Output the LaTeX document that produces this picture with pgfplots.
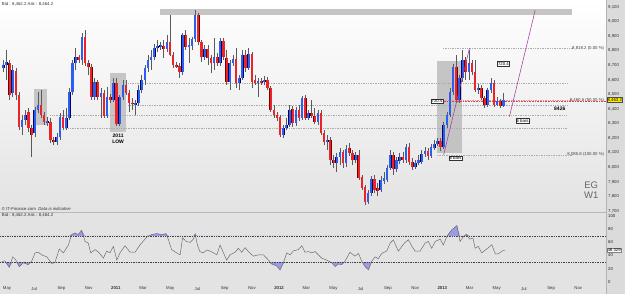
\documentclass[border=0pt]{standalone}
\usepackage{fontspec}
\setmainfont{Liberation Sans}
\usepackage{pgfplots}
\usepackage{pgfplotstable}
\pgfplotsset{compat=1.18}
\definecolor{upc}{HTML}{2A5FF0}
\definecolor{dnc}{HTML}{EC2428}
\definecolor{wick}{HTML}{5A5A5A}
\definecolor{rsifill}{HTML}{9C9CE6}
\definecolor{boxg}{HTML}{BEBEBE}
\newcommand{\tf}{\fontsize{4.3}{5}\selectfont}
\pgfplotsset{nomark/.style={only marks, mark=*, mark size=0pt, mark options={draw=none, fill=none}}}
\pgfplotstableread{
i O H L C
0 8682 8736 8654 8702
1 8702 8805 8599 8723
2 8716 8736 8462 8496
3 8510 8702 8483 8668
4 8661 8682 8462 8496
5 8496 8517 8256 8277
6 8277 8359 8222 8325
7 8325 8393 8291 8359
8 8380 8407 8242 8270
9 8270 8291 8071 8222
10 8236 8414 8208 8393
11 8393 8517 8373 8428
12 8428 8531 8339 8359
13 8359 8380 8291 8311
14 8304 8345 8284 8318
15 8311 8339 8167 8188
16 8188 8208 8153 8174
17 8174 8236 8153 8208
18 8208 8373 8188 8345
19 8345 8393 8256 8270
20 8270 8407 8256 8339
21 8339 8544 8325 8517
22 8517 8736 8496 8716
23 8716 8819 8668 8757
24 8757 8771 8716 8736
25 8736 8922 8702 8894
26 8894 8942 8695 8716
27 8716 8736 8634 8688
28 8688 8709 8462 8483
29 8483 8613 8462 8585
30 8585 8599 8462 8483
31 8483 8544 8339 8510
32 8510 8531 8339 8352
33 8352 8551 8339 8483
34 8483 8503 8441 8462
35 8462 8613 8448 8579
36 8579 8613 8284 8297
37 8297 8496 8284 8483
38 8483 8599 8462 8565
39 8565 8599 8496 8510
40 8510 8531 8380 8441
41 8441 8476 8393 8435
42 8428 8462 8359 8441
43 8441 8565 8421 8531
44 8531 8634 8510 8599
45 8599 8702 8565 8682
46 8682 8771 8654 8736
47 8736 8805 8668 8757
48 8757 8846 8736 8819
49 8819 8874 8791 8832
50 8826 8860 8805 8839
51 8832 8874 8750 8812
52 8812 8908 8791 8860
53 8860 9045 8764 8771
54 8771 8791 8682 8702
55 8702 8723 8682 8695
56 8695 8716 8613 8654
57 8654 8922 8634 8908
58 8908 8942 8805 8826
59 8826 8887 8716 8839
60 8832 8894 8805 8880
61 8880 9079 8860 9045
62 9045 9059 8839 8860
63 8860 8874 8723 8757
64 8757 8839 8736 8812
65 8812 8839 8702 8750
66 8750 8771 8647 8716
67 8716 8887 8668 8757
68 8757 8784 8695 8716
69 8716 8887 8695 8867
70 8867 8887 8736 8757
71 8750 8805 8565 8585
72 8585 8736 8531 8716
73 8716 8771 8695 8743
74 8743 8819 8544 8579
75 8579 8634 8531 8613
76 8613 8805 8599 8771
77 8771 8805 8654 8682
78 8682 8819 8668 8778
79 8778 8791 8544 8585
80 8599 8634 8565 8579
81 8585 8613 8483 8592
82 8592 8613 8565 8585
83 8585 8627 8565 8599
84 8599 8620 8531 8544
85 8544 8558 8380 8393
86 8393 8428 8339 8359
87 8359 8380 8318 8339
88 8345 8359 8208 8222
89 8222 8291 8201 8270
90 8270 8339 8256 8291
91 8291 8428 8277 8393
92 8400 8421 8277 8304
93 8304 8414 8284 8393
94 8393 8428 8318 8339
95 8339 8489 8325 8476
96 8476 8496 8325 8339
97 8339 8393 8325 8373
98 8373 8462 8339 8352
99 8352 8407 8297 8311
100 8311 8393 8291 8373
101 8373 8393 8222 8236
102 8236 8256 8153 8174
103 8174 8222 8119 8188
104 8188 8208 8016 8050
105 8050 8085 7996 8030
106 8030 8098 7968 8071
107 8071 8133 8016 8105
108 8105 8119 7996 8030
109 8030 8153 8002 8126
110 8133 8167 8078 8098
111 8098 8119 8016 8050
112 8050 8105 8030 8085
113 8085 8119 7913 7927
114 7934 7948 7845 7858
115 7865 7879 7742 7762
116 7762 7845 7749 7824
117 7824 7941 7803 7920
118 7920 7948 7824 7845
119 7858 7893 7803 7838
120 7845 7941 7831 7913
121 7906 7968 7886 7927
122 7913 8016 7897 7996
123 7996 8119 7982 8085
124 8085 8105 7948 7989
125 7989 8071 7968 8050
126 8044 8098 8023 8071
127 8071 8105 8030 8050
128 8050 8160 8030 8140
129 8140 8167 8016 8037
130 8037 8064 7982 8002
131 8002 8050 7989 8030
132 8030 8085 8016 8050
133 8037 8119 8023 8092
134 8092 8140 8071 8112
135 8112 8133 8050 8078
136 8078 8160 8064 8140
137 8133 8188 8119 8160
138 8160 8201 8146 8181
139 8181 8201 8112 8140
140 8140 8311 8126 8291
141 8291 8380 8270 8359
142 8359 8544 8345 8517
143 8517 8709 8496 8688
144 8688 8771 8441 8462
145 8462 8634 8441 8613
146 8613 8805 8585 8736
147 8736 8757 8599 8654
148 8654 8805 8599 8716
149 8716 8736 8634 8654
150 8654 8736 8517 8531
151 8531 8572 8503 8544
152 8544 8565 8462 8476
153 8476 8489 8407 8428
154 8428 8544 8414 8531
155 8531 8613 8510 8579
156 8579 8599 8414 8428
157 8428 8483 8421 8455
158 8455 8469 8407 8421
159 8421 8510 8414 8463
}\candles
\pgfplotstableread{
x r
-0.5 30.8
0.5 31.8
1.9 22
3.0 38
4.0 33
5.1 23
6.4 29
7.9 26
9.0 31
10.1 44
11.1 45
12.2 41
13.8 38
15.4 28
16.4 29
17.8 50
19.1 44
20.7 56
21.7 72
22.8 74.5
23.8 72
24.9 78.5
26.0 61.5
27.0 59
27.8 44
29.2 49
30.5 44
31.8 36
32.9 46.7
33.9 44
35.0 54
36.1 33
37.1 44
38.7 55
40.3 45
41.9 45
43.5 56.5
45.6 68
47.2 72
48.8 73.5
50.4 72
51.7 73.5
52.5 64
53.5 49
55.1 44
56.2 41
57.0 67
58.1 61.5
59.4 60
60.4 65
61.0 73
61.7 56
62.5 46
63.6 44
64.7 48.5
66.3 45.5
67.9 41
68.9 56
70.0 44
71.0 33
72.1 41
73.7 45
74.7 51
75.8 45
76.9 52
77.9 46
79.5 39
81.1 41
82.7 41
84.3 33
85.3 27
86.9 24
88.0 18
89.0 28
90.1 44
91.2 41
92.2 47
93.8 49
94.9 55
95.9 45
97.0 46
98.1 44
99.1 46
101.2 36
102.8 33
104.4 29
105.5 23
106.5 27
107.6 26
108.6 31
110.2 45
111.8 39
112.9 43
114.0 31
115.0 23
116.1 18
117.1 31
118.2 38
119.2 35
120.3 43
121.9 47
123.0 59
124.0 64
124.9 54
125.6 46.7
126.7 54
127.7 60
128.8 64
129.9 54
130.9 46.7
132.5 46.7
134.1 59
135.1 61.5
136.2 51
137.3 61.5
138.9 65
139.9 56
141.0 69
142.6 79.5
144.2 85.7
145.2 61.5
146.3 69
147.3 72.5
148.2 65
149.3 66.7
150.0 51
151.0 54
152.1 44
153.7 50
155.3 56.5
156.4 42.6
157.4 42.6
158.5 46.7
159.5 48.3
}\rsitab
\begin{document}
\begin{tikzpicture}[x=1pt,y=1pt]
\path[use as bounding box] (0,0) rectangle (625,294);
\fill[gray!22] (0,0) rectangle (625,82);
\shade[top color=white, bottom color=gray!22] (0,82) rectangle (606,294);
\fill[gray!28] (606,0) rectangle (625,294);
\draw[gray!55, line width=0.4pt] (0,81.8) -- (606,81.8);
\draw[gray!60, line width=0.4pt] (606,0) -- (606,294);
\begin{axis}[
  at={(0pt,82pt)}, anchor=south west,
  scale only axis, width=606pt, height=212pt,
  xmin=-1.05, xmax=191.6, ymin=7693.7, ymax=9148,
  axis line style={draw=none},
  xtick=\empty,
  ytick={7700,7800,7900,8000,8100,8200,8300,8400,8500,8600,8700,8800,8900,9000,9100},
  yticklabel pos=right,
  major tick length=0pt,
  yticklabel style={font=\tf, anchor=west, xshift=1.5pt, text=black!80, inner sep=0.5pt},
  scaled y ticks=false,
  /pgf/number format/1000 sep={,},
  /pgf/number format/assume math mode=true,
  clip mode=individual,
  dl/.style={gray!65, line width=0.35pt, dash pattern=on 0.8pt off 0.9pt},
]
% shaded boxes
\fill[boxg!90] (axis cs:49.8,9045) rectangle (axis cs:180.8,9086);
\fill[boxg, opacity=0.85] (axis cs:9.8,8537) rectangle (axis cs:13.9,8291);
\fill[boxg, opacity=0.85] (axis cs:33.9,8647) rectangle (axis cs:39.0,8242);
\fill[gray!55, opacity=0.8] (axis cs:137.9,8730) rectangle (axis cs:145.9,8098);
% level lines
\addplot[dl] coordinates {(139.8,8818.2) (181,8818.2)};
\addplot[dl] coordinates {(39.7,8579) (179.2,8579)};
\addplot[dl] coordinates {(137,8460.6) (181,8460.6)};
\addplot[dl] coordinates {(39.7,8426) (179.2,8426)};
\addplot[dl] coordinates {(15,8359) (179.2,8359)};
\addplot[dl] coordinates {(19,8270) (179.2,8270)};
\addplot[dl] coordinates {(137.9,8085.8) (181,8085.8)};
\addplot[red!80, line width=0.4pt, dash pattern=on 0.8pt off 0.8pt] coordinates {(137,8452) (191.6,8452)};
% wicks
\addplot[nomark, error bars/.cd, y dir=both, y explicit, error mark=none,
  error bar style={draw=wick, line width=0.5pt}]
  table[x=i, y expr={(\thisrow{H}+\thisrow{L})/2}, y error expr={(\thisrow{H}-\thisrow{L})/2}] {\candles};
% up bodies (thin dark edge, then colour)
\addplot[nomark, restrict expr to domain={\thisrow{C}-\thisrow{O}}{0:10000},
  error bars/.cd, y dir=both, y explicit, error mark=none,
  error bar style={draw=blue!40!black, line width=2.6pt}]
  table[x=i, y expr={(\thisrow{O}+\thisrow{C})/2}, y error expr={abs(\thisrow{C}-\thisrow{O})/2+1.5}] {\candles};
\addplot[nomark, restrict expr to domain={\thisrow{C}-\thisrow{O}}{0:10000},
  error bars/.cd, y dir=both, y explicit, error mark=none,
  error bar style={draw=upc, line width=2.1pt}]
  table[x=i, y expr={(\thisrow{O}+\thisrow{C})/2}, y error expr={abs(\thisrow{C}-\thisrow{O})/2}] {\candles};
% down bodies
\addplot[nomark, restrict expr to domain={\thisrow{C}-\thisrow{O}}{-10000:-0.01},
  error bars/.cd, y dir=both, y explicit, error mark=none,
  error bar style={draw=red!45!black, line width=2.6pt}]
  table[x=i, y expr={(\thisrow{O}+\thisrow{C})/2}, y error expr={abs(\thisrow{C}-\thisrow{O})/2+1.5}] {\candles};
\addplot[nomark, restrict expr to domain={\thisrow{C}-\thisrow{O}}{-10000:-0.01},
  error bars/.cd, y dir=both, y explicit, error mark=none,
  error bar style={draw=dnc, line width=2.1pt}]
  table[x=i, y expr={(\thisrow{O}+\thisrow{C})/2}, y error expr={abs(\thisrow{C}-\thisrow{O})/2}] {\candles};
% purple lines
\addplot[violet!75, line width=0.55pt] coordinates {(140,8086) (148.2,8818)};
\addplot[violet!75, line width=0.55pt] coordinates {(160.9,8348) (169.1,9079)};
% labels
\node[font=\tf, anchor=east, text=black!75, inner sep=0.5pt] at (axis cs:191.2,8818.2) {8,818.2 (0.00 \%)};
\node[font=\tf, anchor=east, text=black!75, inner sep=0.5pt] at (axis cs:191.2,8460.6) {8,460.6 (50.00 \%)};
\node[font=\tf, anchor=east, text=black!75, inner sep=0.5pt] at (axis cs:191.2,8085.8) {8,085.8 (100.00 \%)};
\node[font=\tf, fill=white, draw=black!80, line width=0.3pt, inner sep=0.6pt] at (axis cs:137.9,8455) {720.4};
\node[font=\tf, fill=white, draw=black!80, line width=0.3pt, inner sep=0.6pt] at (axis cs:159,8712) {720.4};
\node[font=\tf, fill=white, draw=black!80, line width=0.3pt, inner sep=0.6pt] at (axis cs:143.8,8061) {6 bars};
\node[font=\tf, fill=white, draw=black!80, line width=0.3pt, inner sep=0.6pt] at (axis cs:165.1,8321) {6 bars};
\node[font=\fontsize{5}{6}\selectfont\bfseries, inner sep=0pt] at (axis cs:176.9,8400) {8426};
\node[font=\fontsize{5}{6}\selectfont\bfseries, align=center, inner sep=0pt] at (axis cs:36.5,8198) {2011\\LOW};
\node[font=\fontsize{9.5}{10.5}\selectfont, text=black!60, align=center, inner sep=0pt] at (axis cs:186.9,7843) {EG\\W1};
\node[font=\tf, anchor=west, text=black!80, inner sep=0pt] at (axis cs:-0.5,9121) {Bid : 8,462.2 Ask : 8,464.2};
\node[font=\tf, anchor=west, text=black!80, inner sep=0pt] at (axis cs:-0.5,7712) {\copyright\ IT-Finance.com \ \textit{Data is indicative}};
\node[font=\tf, anchor=west, fill=yellow, draw=black!70, line width=0.3pt, inner sep=0.5pt] at (axis cs:191.9,8463.2) {8,463.2};
\end{axis}
\begin{axis}[
  at={(0pt,8pt)}, anchor=south west,
  scale only axis, width=606pt, height=73.5pt,
  xmin=-1.05, xmax=191.6, ymin=-6.6, ymax=105.7,
  axis line style={draw=none},
  ytick={0,20,40,60,80,100},
  yticklabel pos=right,
  major tick length=0pt,
  yticklabel style={font=\tf, anchor=west, xshift=1.5pt, text=black!85, inner sep=0.5pt},
  xtick={1.18,9.83,18.47,27.12,35.77,44.42,53.07,61.72,70.37,79.01,87.66,96.31,104.96,113.61,122.26,130.91,139.56,148.2,156.85,165.5,174.15,182.8},
  xticklabels={May,Jul,Sep,Nov,\textbf{2011},Mar,May,Jul,Sep,Nov,\textbf{2012},Mar,May,Jul,Sep,Nov,\textbf{2013},Mar,May,Jul,Sep,Nov},
  xticklabel style={font=\tf, text=black!80, inner sep=0.8pt},
  /pgf/number format/assume math mode=true,
  clip mode=individual,
]
\addplot[fill=rsifill, draw=none] table[x=x, y expr={max(\thisrow{r},70)}] {\rsitab} -- (axis cs:159.5,70) -- (axis cs:-0.5,70) -- cycle;
\addplot[fill=rsifill, draw=none] table[x=x, y expr={min(\thisrow{r},30)}] {\rsitab} -- (axis cs:159.5,30) -- (axis cs:-0.5,30) -- cycle;
\addplot[black!75, line width=0.35pt, dash pattern=on 0.8pt off 0.9pt] coordinates {(-1.05,70) (191.6,70)};
\addplot[black!75, line width=0.35pt, dash pattern=on 0.8pt off 0.9pt] coordinates {(-1.05,30) (191.6,30)};
\addplot[black!60, line width=0.45pt] table[x=x, y=r] {\rsitab};
\node[font=\tf, anchor=west, text=black!80, inner sep=0pt] at (axis cs:-0.5,101) {Bid : 8,462.2 Ask : 8,464.2};
\node[font=\tf, anchor=west, fill=white, draw=black!50, line width=0.3pt, inner sep=0.5pt] at (axis cs:191.9,48.3) {48.329};
\end{axis}
\end{tikzpicture}
\end{document}
